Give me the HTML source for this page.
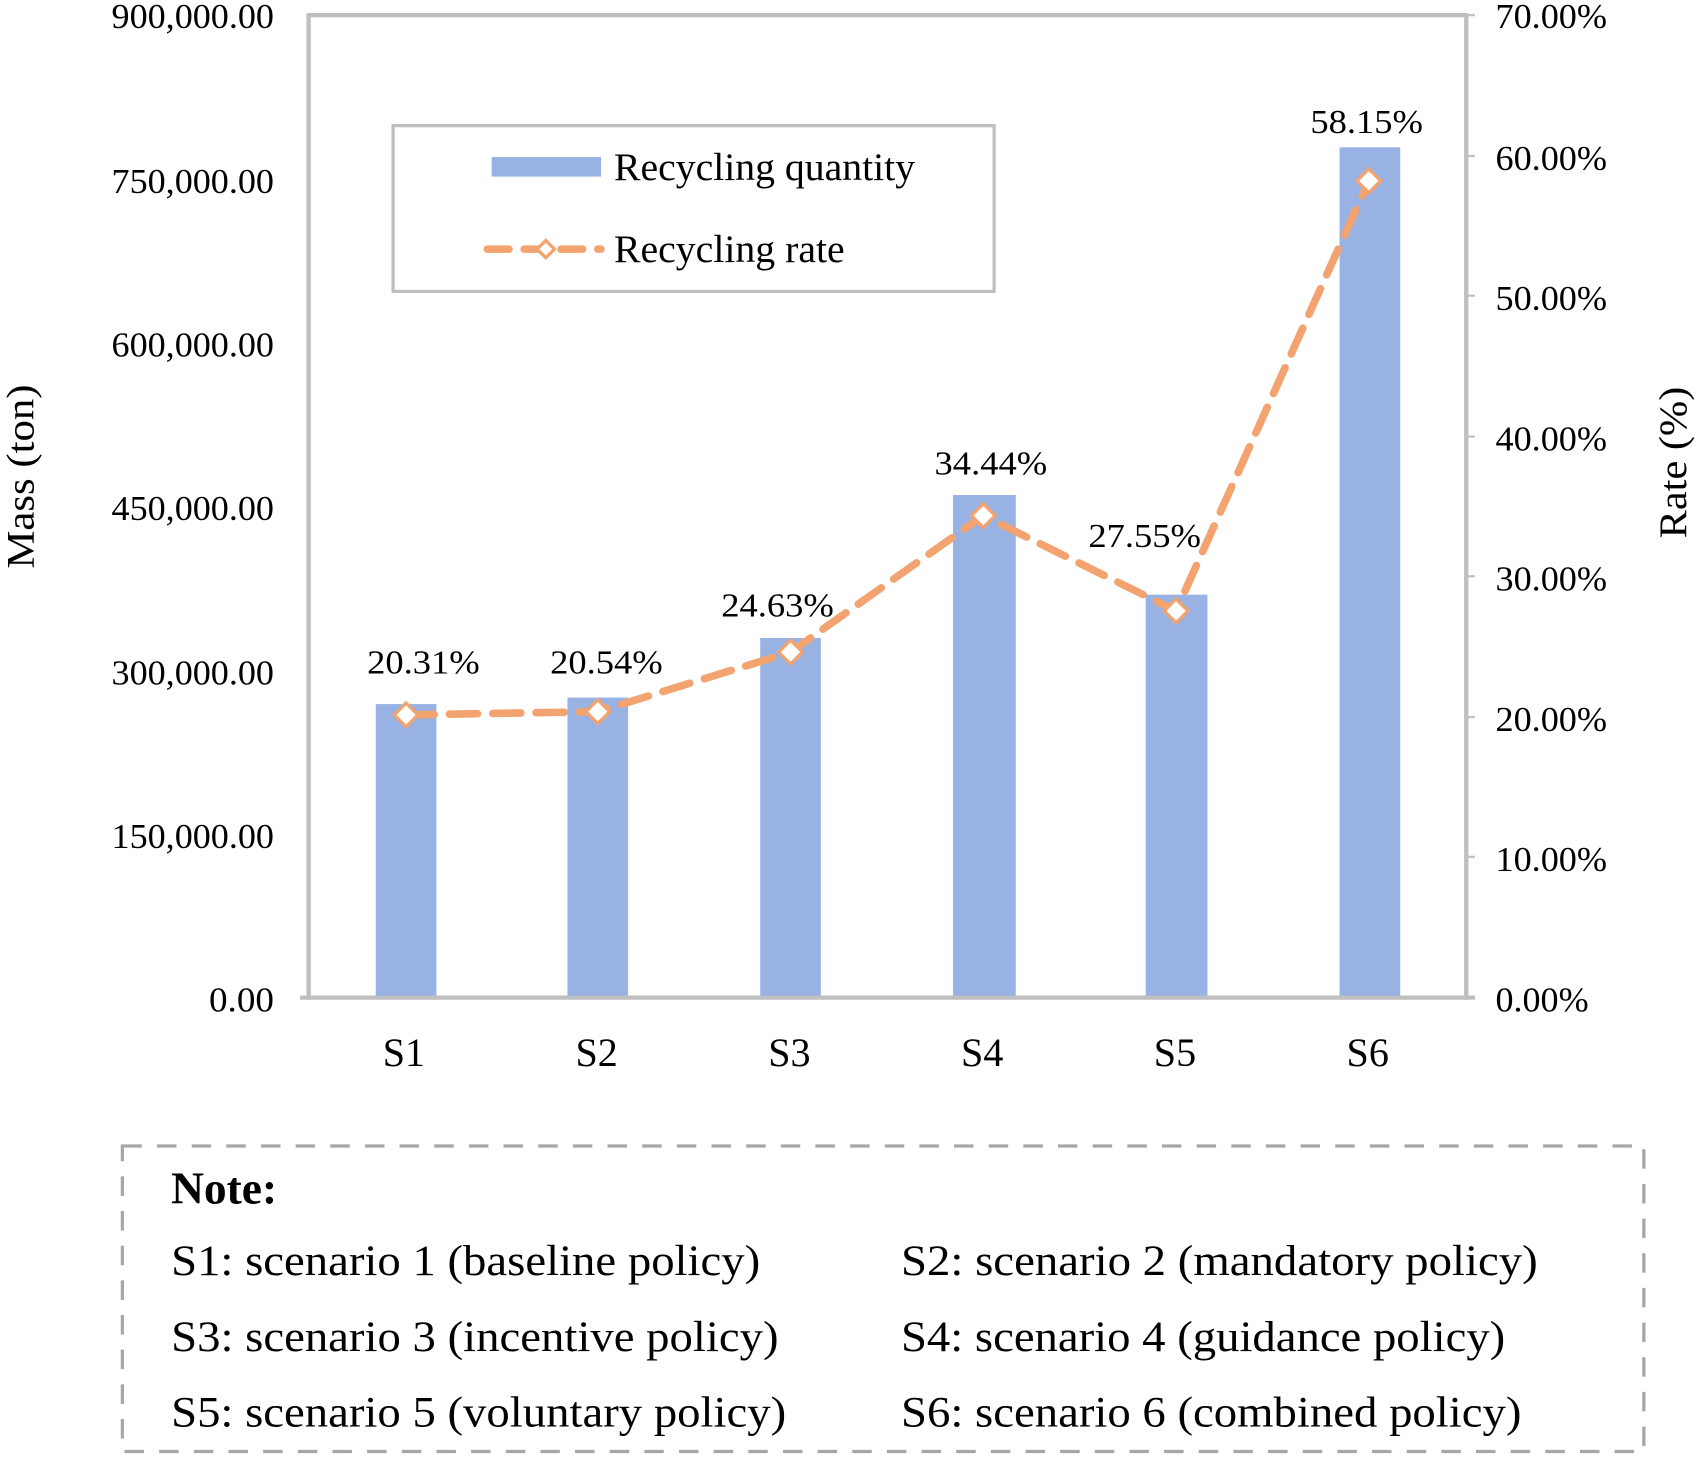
<!DOCTYPE html>
<html><head><meta charset="utf-8"><style>
html,body{margin:0;padding:0;background:#fff;}
svg{display:block;}
text{font-family:"Liberation Serif",serif;fill:#000;}
</style></head><body>
<svg width="1698" height="1458" viewBox="0 0 1568 1346" preserveAspectRatio="none" xmlns="http://www.w3.org/2000/svg">
<rect x="0" y="0" width="1568" height="1346" fill="#fff"/>
<g fill="#97b2e3">
<rect x="347" y="650" width="56" height="271"/>
<rect x="524" y="644" width="56" height="277"/>
<rect x="702" y="589" width="56" height="332"/>
<rect x="880" y="457" width="58" height="464"/>
<rect x="1058" y="549" width="57" height="372"/>
<rect x="1237" y="136" width="56" height="785"/>
</g>
<g stroke="#bfbfbf" stroke-width="4" fill="none">
<line x1="285" y1="14" x2="1354" y2="14"/>
<line x1="285" y1="12" x2="285" y2="923"/>
<line x1="1354" y1="12" x2="1354" y2="923"/>
<line x1="277" y1="921" x2="1362" y2="921"/>
</g>
<g stroke="#bfbfbf" stroke-width="2">
<line x1="1354" y1="14" x2="1362" y2="14"/><line x1="1354" y1="144" x2="1362" y2="144"/>
<line x1="1354" y1="273" x2="1362" y2="273"/><line x1="1354" y1="403" x2="1362" y2="403"/>
<line x1="1354" y1="532" x2="1362" y2="532"/><line x1="1354" y1="662" x2="1362" y2="662"/>
<line x1="1354" y1="791" x2="1362" y2="791"/>
</g>
<polyline points="375,660 552,657 730,602 908,476 1086,564 1264,167" fill="none" stroke="#f2a36f" stroke-width="7" stroke-dasharray="26,14" stroke-linecap="round" stroke-linejoin="round"/>
<g fill="#fff" stroke="#f2a36f" stroke-width="3">
<polygon points="375,649 386,660 375,671 364,660"/>
<polygon points="552,646 563,657 552,668 541,657"/>
<polygon points="730,591 741,602 730,613 719,602"/>
<polygon points="908,465 919,476 908,487 897,476"/>
<polygon points="1086,553 1097,564 1086,575 1075,564"/>
<polygon points="1264,156 1275,167 1264,178 1253,167"/>
</g>
<g font-size="31" text-anchor="middle">
<text x="391" y="622" textLength="104" lengthAdjust="spacingAndGlyphs">20.31%</text>
<text x="560" y="622" textLength="104" lengthAdjust="spacingAndGlyphs">20.54%</text>
<text x="718" y="569" textLength="104" lengthAdjust="spacingAndGlyphs">24.63%</text>
<text x="915" y="438" textLength="104" lengthAdjust="spacingAndGlyphs">34.44%</text>
<text x="1057" y="505" textLength="104" lengthAdjust="spacingAndGlyphs">27.55%</text>
<text x="1262" y="123" textLength="104" lengthAdjust="spacingAndGlyphs">58.15%</text>
</g>
<g font-size="32" text-anchor="end">
<text x="253" y="26" textLength="150" lengthAdjust="spacingAndGlyphs">900,000.00</text>
<text x="253" y="178" textLength="150" lengthAdjust="spacingAndGlyphs">750,000.00</text>
<text x="253" y="329" textLength="150" lengthAdjust="spacingAndGlyphs">600,000.00</text>
<text x="253" y="480" textLength="150" lengthAdjust="spacingAndGlyphs">450,000.00</text>
<text x="253" y="632" textLength="150" lengthAdjust="spacingAndGlyphs">300,000.00</text>
<text x="253" y="783" textLength="150" lengthAdjust="spacingAndGlyphs">150,000.00</text>
<text x="253" y="934" textLength="60" lengthAdjust="spacingAndGlyphs">0.00</text>
</g>
<g font-size="32">
<text x="1381" y="26" textLength="103" lengthAdjust="spacingAndGlyphs">70.00%</text>
<text x="1381" y="157" textLength="103" lengthAdjust="spacingAndGlyphs">60.00%</text>
<text x="1381" y="286" textLength="103" lengthAdjust="spacingAndGlyphs">50.00%</text>
<text x="1381" y="416" textLength="103" lengthAdjust="spacingAndGlyphs">40.00%</text>
<text x="1381" y="545" textLength="103" lengthAdjust="spacingAndGlyphs">30.00%</text>
<text x="1381" y="675" textLength="103" lengthAdjust="spacingAndGlyphs">20.00%</text>
<text x="1381" y="804" textLength="103" lengthAdjust="spacingAndGlyphs">10.00%</text>
<text x="1381" y="934" textLength="86" lengthAdjust="spacingAndGlyphs">0.00%</text>
</g>
<g font-size="37" text-anchor="middle">
<text x="373" y="984">S1</text><text x="551" y="984">S2</text><text x="729" y="984">S3</text>
<text x="907" y="984">S4</text><text x="1085" y="984">S5</text><text x="1263" y="984">S6</text>
</g>
<text font-size="36" text-anchor="middle" transform="translate(31,440) rotate(-90)" textLength="170" lengthAdjust="spacingAndGlyphs">Mass (ton)</text>
<text font-size="36" text-anchor="middle" transform="translate(1557,427) rotate(-90)" textLength="140" lengthAdjust="spacingAndGlyphs">Rate (%)</text>
<rect x="363" y="116" width="555" height="153" fill="#fff" stroke="#bfbfbf" stroke-width="3"/>
<rect x="454" y="145" width="101" height="18" fill="#97b2e3"/>
<text x="567" y="166" font-size="36" textLength="278" lengthAdjust="spacingAndGlyphs">Recycling quantity</text>
<line x1="450" y1="230" x2="555" y2="230" stroke="#f2a36f" stroke-width="7" stroke-dasharray="20,14" stroke-linecap="round"/>
<polygon points="504,222 512,230 504,238 496,230" fill="#fff" stroke="#f2a36f" stroke-width="3"/>
<text x="567" y="242" font-size="36" textLength="213" lengthAdjust="spacingAndGlyphs">Recycling rate</text>
<rect x="113" y="1058" width="1405" height="282" fill="none" stroke="#a6a6a6" stroke-width="3" stroke-dasharray="18,14"/>
<text x="158" y="1111" font-size="42" font-weight="bold">Note:</text>
<g font-size="40">
<text x="158" y="1177" textLength="544" lengthAdjust="spacingAndGlyphs">S1: scenario 1 (baseline policy)</text>
<text x="158" y="1247" textLength="561" lengthAdjust="spacingAndGlyphs">S3: scenario 3 (incentive policy)</text>
<text x="158" y="1317" textLength="568" lengthAdjust="spacingAndGlyphs">S5: scenario 5 (voluntary policy)</text>
<text x="832" y="1177" textLength="588" lengthAdjust="spacingAndGlyphs">S2: scenario 2 (mandatory policy)</text>
<text x="832" y="1247" textLength="558" lengthAdjust="spacingAndGlyphs">S4: scenario 4 (guidance policy)</text>
<text x="832" y="1317" textLength="573" lengthAdjust="spacingAndGlyphs">S6: scenario 6 (combined policy)</text>
</g>
</svg>
</body></html>
